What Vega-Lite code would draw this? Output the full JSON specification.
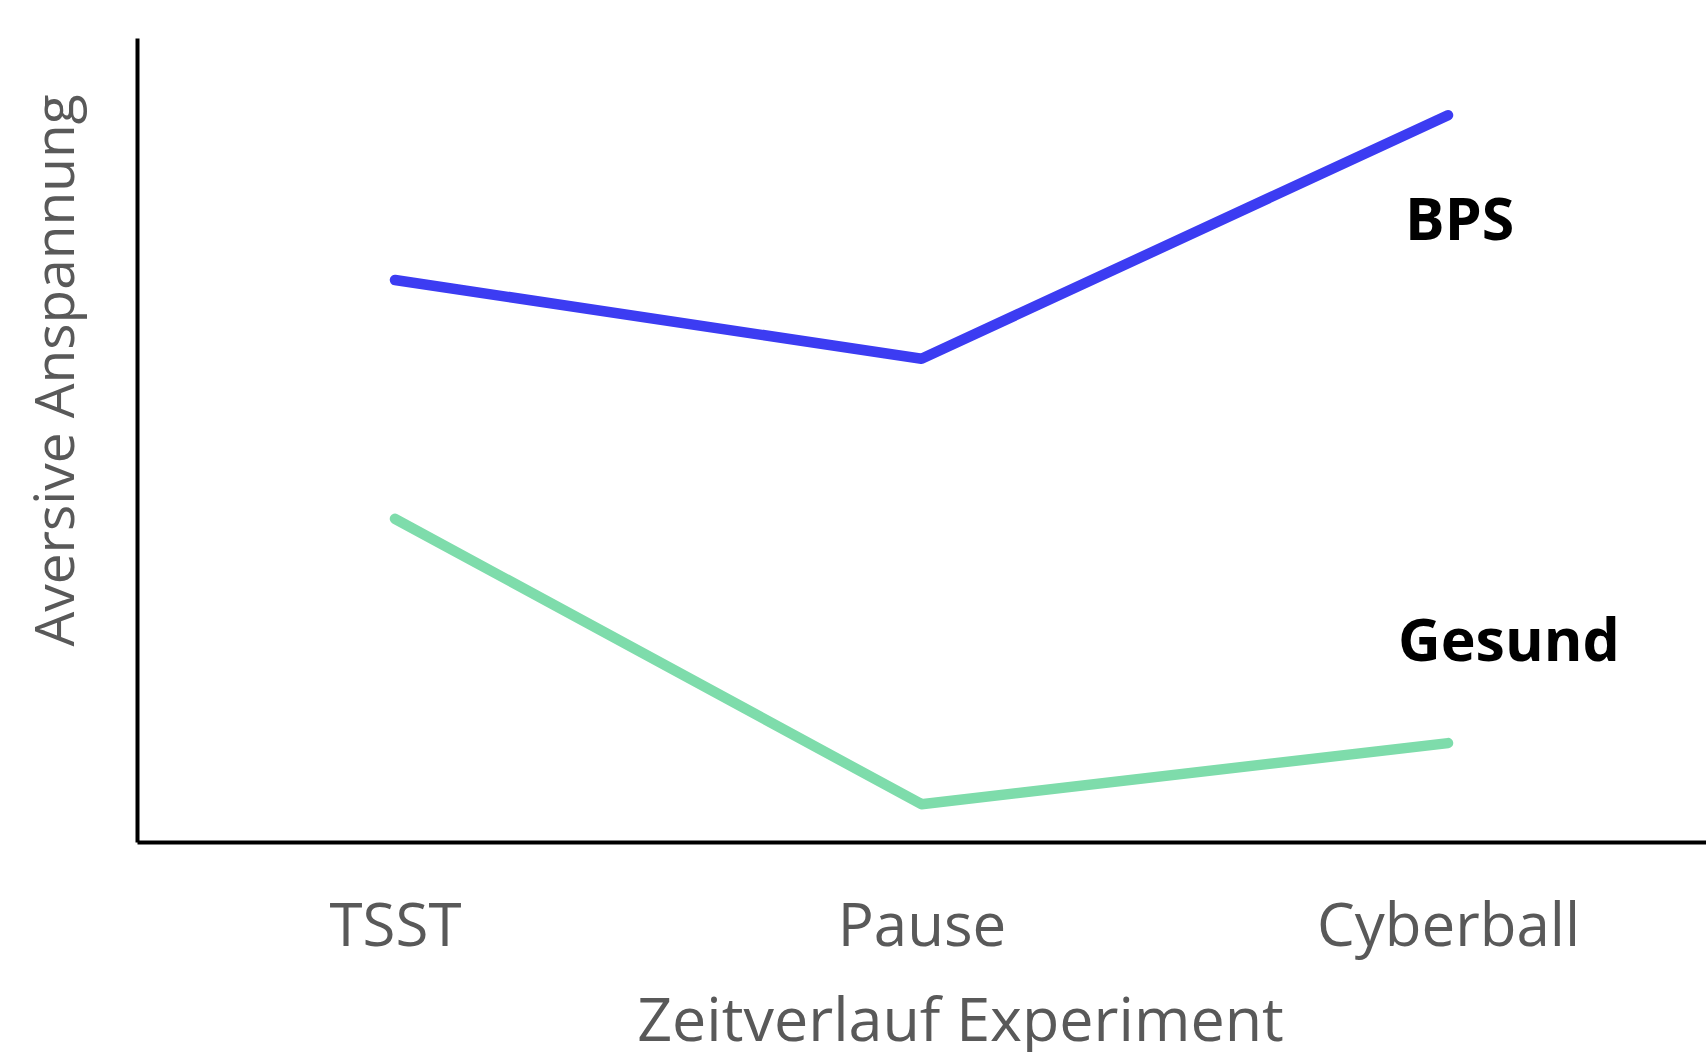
{
  "$schema": "https://vega.github.io/schema/vega-lite/v6.json",
  "autosize": {"type": "none"},
  "padding": {"left": 137, "top": 38, "right": 0, "bottom": 210},
  "width": 1569,
  "height": 804,
  "background": "white",
  "config": {"view": {"stroke": null}, "font": "Open Sans"},
  "datasets": {
    "lines": [
      {"gruppe": "BPS", "phase": "TSST", "wert": 69.9},
      {"gruppe": "BPS", "phase": "Pause", "wert": 60.1},
      {"gruppe": "BPS", "phase": "Cyberball", "wert": 90.4},
      {"gruppe": "Gesund", "phase": "TSST", "wert": 40.2},
      {"gruppe": "Gesund", "phase": "Pause", "wert": 4.7},
      {"gruppe": "Gesund", "phase": "Cyberball", "wert": 12.3}
    ],
    "labels": [
      {"gruppe": "BPS", "phase": "Cyberball", "wert": 77.1},
      {"gruppe": "Gesund", "phase": "Cyberball", "wert": 24.8}
    ]
  },
  "layer": [
    {
      "data": {"name": "lines"},
      "mark": {"type": "line", "strokeWidth": 10.5, "strokeCap": "round", "strokeJoin": "round"},
      "encoding": {
        "x": {
          "field": "phase", "type": "ordinal", "sort": ["TSST", "Pause", "Cyberball"],
          "scale": {"type": "point", "padding": 0.49},
          "axis": {
            "title": "Zeitverlauf Experiment",
            "domainColor": "black", "domainWidth": 4,
            "ticks": false, "grid": false,
            "labelFont": "Open Sans", "labelFontSize": 60, "labelColor": "#595959",
            "labelBaseline": "middle", "labelPadding": 85, "labelAngle": 0,
            "labelLimit": 0, "labelOverlap": false,
            "titleFont": "Open Sans", "titleFontSize": 61, "titleFontWeight": "normal", "titleColor": "#595959",
            "titleX": 823, "titleY": 180, "titleBaseline": "middle", "titleAlign": "center"
          }
        },
        "y": {
          "field": "wert", "type": "quantitative",
          "scale": {"domain": [0, 100], "nice": false, "zero": true},
          "axis": {
            "title": "Aversive Anspannung",
            "domainColor": "black", "domainWidth": 4,
            "ticks": false, "grid": false, "labels": false,
            "titleFont": "Open Sans", "titleFontSize": 55, "titleFontWeight": "normal", "titleColor": "#595959",
            "titleAngle": -90, "titleX": -81, "titleY": 332, "titleBaseline": "middle", "titleAlign": "center"
          }
        },
        "color": {
          "field": "gruppe", "type": "nominal",
          "scale": {"domain": ["BPS", "Gesund"], "range": ["#3c3cf2", "#7edcab"]},
          "legend": null
        }
      }
    },
    {
      "data": {"name": "labels"},
      "transform": [{"filter": "datum.gruppe === 'BPS'"}],
      "mark": {"type": "text", "font": "Open Sans", "fontWeight": "bold", "fontSize": 59, "color": "black", "baseline": "middle", "align": "left", "dx": -43},
      "encoding": {
        "x": {"field": "phase", "type": "ordinal", "sort": ["TSST", "Pause", "Cyberball"]},
        "y": {"field": "wert", "type": "quantitative"},
        "text": {"field": "gruppe"}
      }
    },
    {
      "data": {"name": "labels"},
      "transform": [{"filter": "datum.gruppe === 'Gesund'"}],
      "mark": {"type": "text", "font": "Open Sans", "fontWeight": "bold", "fontSize": 59, "color": "black", "baseline": "middle", "align": "left", "dx": -50},
      "encoding": {
        "x": {"field": "phase", "type": "ordinal", "sort": ["TSST", "Pause", "Cyberball"]},
        "y": {"field": "wert", "type": "quantitative"},
        "text": {"field": "gruppe"}
      }
    }
  ]
}
